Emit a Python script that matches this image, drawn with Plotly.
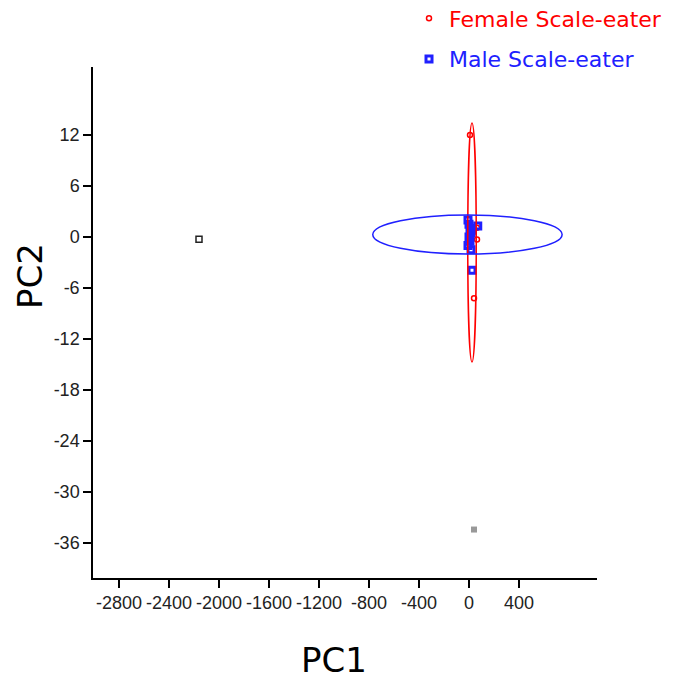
import plotly.graph_objects as go

# Data
female_x = [64, 64, 40, 8]
female_y = [1.1, -0.3, -7.2, 12.0]
male_x = [-8, 0, 8, 16, 0, 8, -8, 16, 24, 70, 24]
male_y = [2.0, 1.5, 1.0, 0.5, 0.0, -0.5, -1.0, -1.5, 0.8, 1.3, -3.9]
other_black_x = [-2160]
other_black_y = [-0.25]
other_grey_x = [40]
other_grey_y = [-34.4]
series_names = ["Female Scale-eater", "Male Scale-eater"]

# Ellipses: [x0, x1, y0, y1]
female_ellipse = [-10, 58, -14.7, 13.4]
male_ellipse = [-770, 745, -2.0, 2.6]

x_range = [-3008, 1024]
y_range = [-40.1, 20]
x_ticks = [-2800, -2400, -2000, -1600, -1200, -800, -400, 0, 400]
y_ticks = [12, 6, 0, -6, -12, -18, -24, -30, -36]

RED = "#ff0000"
BLUE = "#2020ff"

fig = go.Figure()
fig.add_trace(go.Scatter(
    x=female_x, y=female_y, mode="markers",
    name=f"<span style='color:{RED}'>{series_names[0]}</span>",
    marker=dict(symbol="circle-open", size=5, color=RED, line=dict(width=1.5, color=RED)),
    legendgroup="f",
))
fig.add_trace(go.Scatter(
    x=male_x, y=male_y, mode="markers",
    name=f"<span style='color:{BLUE}'>{series_names[1]}</span>",
    marker=dict(symbol="square-open", size=6, color=BLUE, line=dict(width=3, color=BLUE)),
    legendgroup="m",
))
fig.add_trace(go.Scatter(
    x=other_black_x, y=other_black_y, mode="markers", showlegend=False,
    marker=dict(symbol="square-open", size=6, color="#222", line=dict(width=1.5, color="#222")),
))
fig.add_trace(go.Scatter(
    x=other_grey_x, y=other_grey_y, mode="markers", showlegend=False,
    marker=dict(symbol="square", size=6, color="#999999"),
))

fig.add_shape(type="circle", xref="x", yref="y",
              x0=female_ellipse[0], x1=female_ellipse[1],
              y0=female_ellipse[2], y1=female_ellipse[3],
              line=dict(color=RED, width=1.5))
fig.add_shape(type="circle", xref="x", yref="y",
              x0=male_ellipse[0], x1=male_ellipse[1],
              y0=male_ellipse[2], y1=male_ellipse[3],
              line=dict(color=BLUE, width=1.5))

title_font = dict(family="DejaVu Sans, Verdana", size=34, color="black")
fig.add_annotation(text="PC1", xref="paper", yref="paper", x=0.478, y=0,
                   xanchor="center", yanchor="middle", yshift=-82,
                   showarrow=False, font=title_font)
fig.add_annotation(text="PC2", xref="paper", yref="paper", x=0, y=0.591,
                   xanchor="center", yanchor="middle", xshift=-63, textangle=-90,
                   showarrow=False, font=title_font)

fig.update_layout(
    width=686, height=675,
    margin=dict(l=85, r=97, t=59, b=105, autoexpand=False),
    plot_bgcolor="white", paper_bgcolor="white",
    font=dict(family="Liberation Sans, Arial", size=18, color="#222"),
    legend=dict(
        xref="paper", yref="paper",
        x=0.627, y=1.136, xanchor="left", yanchor="top",
        font=dict(family="DejaVu Sans, Verdana", size=22),
        traceorder="grouped", tracegroupgap=9,
        bgcolor="rgba(0,0,0,0)", itemwidth=30,
    ),
    xaxis=dict(
        range=x_range, tickvals=x_ticks, ticktext=[str(v) for v in x_ticks],
        tickangle=0,
        showgrid=False, zeroline=False, showline=True, linecolor="black", linewidth=1.5,
        ticks="outside", ticklen=8, tickcolor="black", tickwidth=1.5, automargin=False,
    ),
    yaxis=dict(
        range=y_range, tickvals=y_ticks, ticktext=[str(v) for v in y_ticks],
        showgrid=False, zeroline=False, showline=True, linecolor="black", linewidth=1.5,
        ticks="outside", ticklen=8, tickcolor="black", tickwidth=1.5, automargin=False,
    ),
)

fig.write_html("out.html")
